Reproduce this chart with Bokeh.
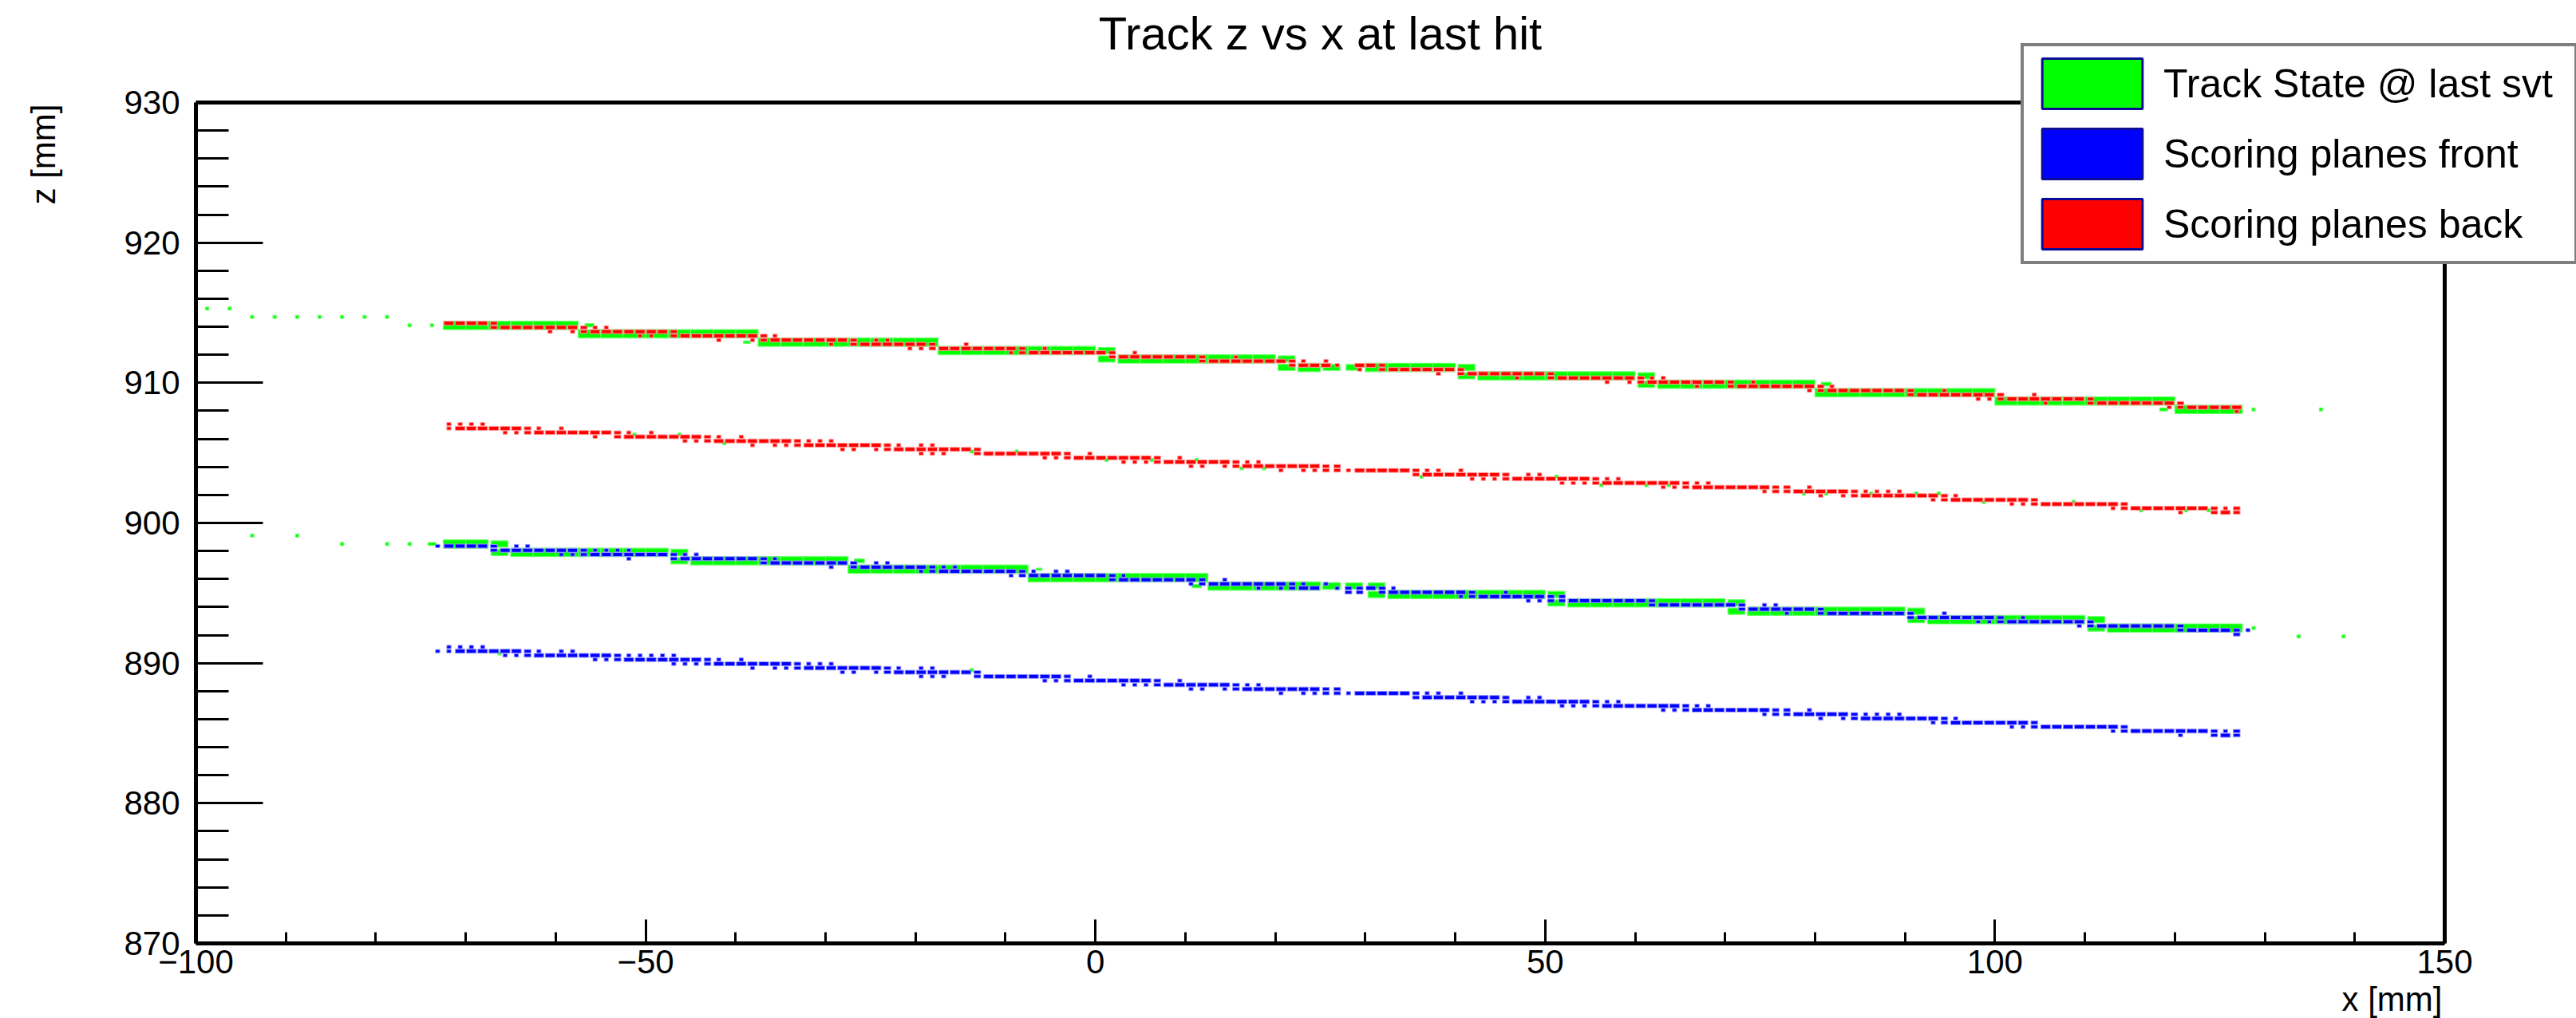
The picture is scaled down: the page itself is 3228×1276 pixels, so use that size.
from bokeh.plotting import figure
from bokeh.models import (Range1d, LinearAxis, FixedTicker, Label, Legend, LegendItem,
                          ColumnDataSource)
from bokeh.embed import file_html
from bokeh.resources import INLINE

FONT = "Liberation Sans"

# histogram binning (mm)
TS_DX, TS_DZ = 2.5, 0.6     # track-state histogram
SP_DX, SP_DZ = 1.25, 0.3    # scoring-plane histograms

# axis ranges and ticks
X_MIN, X_MAX = -100, 150
Z_MIN, Z_MAX = 870, 930
x_major = [-100, -50, 0, 50, 100, 150]
x_minor = [-90, -80, -70, -60, -40, -30, -20, -10, 10, 20, 30, 40,
           60, 70, 80, 90, 110, 120, 130, 140]
z_major = [870, 880, 890, 900, 910, 920, 930]
z_minor = [872, 874, 876, 878, 882, 884, 886, 888, 892, 894, 896, 898,
           902, 904, 906, 908, 912, 914, 916, 918, 922, 924, 926, 928]
x_tick_text = {-100: "\u2212100", -50: "\u221250"}

# ---------------- Track State @ last svt ----------------
# upper track: full-content runs (x from, x to, z)
ts_up_x0 = [-72.5, -57.5, -37.5, -17.5, 2.5, 22.5, 30, 42.5, 62.5, 80, 100, 120]
ts_up_x1 = [-57.5, -37.5, -17.5, 0, 20, 25, 40, 60, 80, 100, 120, 127.5]
ts_up_z = [914.1, 913.5, 912.9, 912.3, 911.7, 911.1, 911.1, 910.5, 909.9, 909.3, 908.7, 908.1]
ts_up_step_x = [1.25, 21.25, 41.25, 61.25]
ts_up_step_z = [912.3, 911.7, 911.1, 910.5]
ts_up_part_x = [26.25, 28.75, -56.25, -38.75, 81.25, 118.75]
ts_up_part_z = [911.1, 911.1, 914.1, 912.9, 909.9, 908.1]
ts_up_part_f = [0.75, 0.7, 0.4, 0.3, 0.45, 0.35]
ts_up_dot_x = [-98.75, -96.25, -93.75, -91.25, -88.75, -86.25, -83.75, -81.25, -78.75,
               -76.25, -73.75, 128.75, 136.25]
ts_up_dot_z = [915.3, 915.3, 914.7, 914.7, 914.7, 914.7, 914.7, 914.7, 914.7,
               914.1, 914.1, 908.1, 908.1]

# lower track
ts_lo_x0 = [-72.5, -65, -45, -27.5, -7.5, 12.5, 32.5, 52.5, 72.5, 92.5, 112.5]
ts_lo_x1 = [-67.5, -47.5, -27.5, -7.5, 12.5, 25, 50, 70, 90, 110, 127.5]
ts_lo_z = [898.5, 897.9, 897.3, 896.7, 896.1, 895.5, 894.9, 894.3, 893.7, 893.1, 892.5]
ts_lo_step_x = [-66.25, -46.25, 31.25, 51.25, 71.25, 91.25, 111.25]
ts_lo_step_z = [898.5, 897.9, 895.5, 894.9, 894.3, 893.7, 893.1]
ts_lo_part_x = [26.25, 28.75, -26.25, -6.25, 11.25, -73.75]
ts_lo_part_z = [895.5, 895.5, 897.3, 896.7, 895.5, 898.5]
ts_lo_part_f = [0.8, 0.75, 0.45, 0.25, 0.4, 0.35]
ts_lo_dot_x = [-93.75, -88.75, -83.75, -78.75, -76.25, 128.75, 133.75, 138.75]
ts_lo_dot_z = [899.1, 899.1, 898.5, 898.5, 898.5, 892.5, 891.9, 891.9]

# sparse single entries along the scoring-plane tracks
ts_spk_x = [-51.25, -46.25, -41.25, -13.75, -8.75, 1.25, 6.25, 11.25, 16.25, 18.75,
            36.25, 51.25, 56.25, 61.25, 63.75, 78.75, 81.25, 86.25, 91.25, 93.75,
            98.75, 108.75, 116.25, 121.25, 123.75, -66.25, -13.75]
ts_spk_z = [906.3, 906.3, 905.7, 905.1, 905.1, 904.5, 904.5, 904.5, 903.9, 903.9,
            903.3, 903.3, 902.7, 902.7, 902.7, 902.1, 902.1, 902.1, 902.1, 902.1,
            901.5, 901.5, 900.9, 900.9, 900.9, 890.7, 889.5]

# ---------------- Scoring planes back ----------------
back_up_x0 = [-72.5, -66.25, -56.25, -46.25, -36.25, -26.25, -17.5, -7.5, 2.5, 12.5, 22.5,
              28.75, 32.5, 41.25, 51.25, 61.25, 71.25, 81.25, 91.25, 101.25, 111.25, 121.25]
back_up_x1 = [-67.5, -57.5, -47.5, -37.5, -27.5, -18.75, -8.75, 1.25, 11.25, 21.25, 26.25,
              31.25, 40, 50, 60, 70, 80, 90, 100, 110, 120, 127.5]
back_up_z = [914.25, 913.95, 913.65, 913.35, 913.05, 912.75, 912.45, 912.15, 911.85, 911.55,
             911.25, 911.25, 910.95, 910.65, 910.35, 910.05, 909.75, 909.45, 909.15, 908.85,
             908.55, 908.25]
back_up_step_x = [-66.875, -56.875, -46.875, -36.875, -26.875, -18.125, -8.125, 1.875, 11.875,
                  21.875, 31.875, 40.625, 50.625, 60.625, 70.625, 80.625, 90.625, 100.625,
                  110.625, 120.625]
back_up_step_z = [914.25, 913.95, 913.65, 913.35, 913.05, 912.75, 912.45, 912.15, 911.85,
                  911.55, 911.25, 910.95, 910.65, 910.35, 910.05, 909.75, 909.45, 909.15,
                  908.85, 908.55]
back_up_small_x = [-60.625, -58.125, -55.625, -54.375, -50.625, -49.375, -41.875, -38.125,
                   -35.625, -29.375, -24.375, -23.125, -20.625, -19.375, -14.375, -9.375,
                   -5.625, 4.375, 15.625, 23.125, 25.625, 26.875, 29.375, 38.125, 46.875,
                   56.875, 59.375, 61.875, 63.125, 66.875, 73.125, 79.375, 81.875, 94.375,
                   98.125, 99.375, 104.375, 105.625, 119.375, 126.875]
back_up_small_z = [913.65, 913.65, 913.95, 913.95, 913.35, 913.35, 913.05, 913.05,
                   913.35, 912.75, 913.05, 913.05, 912.45, 912.45, 912.75, 912.15,
                   912.45, 912.15, 911.85, 911.55, 911.55, 911.25, 910.95, 910.65, 910.35,
                   910.05, 910.05, 910.35, 910.35, 909.75, 910.05, 909.45, 909.75, 909.45,
                   908.85, 908.85, 909.15, 908.55, 908.25, 907.95]

back_lo_x0 = [-71.25, -62.5, -52.5, -42.5, -32.5, -22.5, -12.5, -2.5, 7.5, 16.25, 28.75,
              36.25, 46.25, 56.25, 66.25, 77.5, 85, 95, 105, 115, 125]
back_lo_x1 = [-63.75, -53.75, -43.75, -33.75, -23.75, -13.75, -3.75, 6.25, 15, 25, 35,
              45, 55, 65, 75, 83.75, 93.75, 103.75, 113.75, 123.75, 126.25]
back_lo_z = [906.75, 906.45, 906.15, 905.85, 905.55, 905.25, 904.95, 904.65, 904.35, 904.05,
             903.75, 903.45, 903.15, 902.85, 902.55, 902.25, 901.95, 901.65, 901.35, 901.05,
             900.75]
back_lo_step_x = [-63.125, -53.125, -43.125, -33.125, -23.125, -13.125, -3.125, 6.875, 15.625,
                  25.625, 26.875, 35.625, 45.625, 55.625, 65.625, 75.625, 76.875, 84.375,
                  94.375, 104.375, 114.375, 124.375, 126.875]
back_lo_step_z = [906.75, 906.45, 906.15, 905.85, 905.55, 905.25, 904.95, 904.65, 904.35,
                  904.05, 904.05, 903.75, 903.45, 903.15, 902.85, 902.55, 902.55, 902.25,
                  901.95, 901.65, 901.35, 901.05, 901.05]
back_lo_small_x = [-71.875, -71.875, -70.625, -69.375, -68.125, -65.625, -64.375, -61.875,
                   -59.375, -55.625, -51.875, -49.375, -45.625, -44.375, -41.875, -39.375,
                   -38.125, -35.625, -34.375, -31.875, -30.625, -29.375, -28.125, -26.875,
                   -24.375, -21.875, -19.375, -18.125, -19.375, -18.125, -16.875, -5.625,
                   -4.375, -0.625, 3.125, 4.375, 5.625, 9.375, 10.625, 11.875, 14.375, 16.875,
                   18.125, 20.625, 23.125, 24.375, 28.125, 36.875, 38.125, 40.625, 41.875,
                   43.125, 44.375, 48.125, 49.375, 51.875, 53.125, 54.375, 56.875, 58.125,
                   63.125, 64.375, 66.875, 68.125, 74.375, 79.375, 80.625, 83.125, 85.625,
                   86.875, 88.125, 89.375, 93.125, 95.625, 101.875, 103.125, 113.125,
                   120.625, 125.625]
back_lo_small_z = [907.05, 906.75, 907.05, 907.05, 907.05, 906.45, 906.45, 906.75,
                   906.75, 906.15, 906.45, 906.45, 905.85, 905.85, 906.15, 906.15,
                   905.55, 905.55, 905.55, 905.85, 905.85, 905.85, 905.25, 905.25,
                   905.25, 905.55, 905.55, 905.55, 904.95, 904.95, 904.95, 904.65,
                   904.65, 904.95, 904.35, 904.35, 904.35, 904.65, 904.05, 904.05, 904.05, 904.35,
                   904.35, 903.75, 903.75, 903.75, 903.75, 903.75, 903.75, 903.75, 903.15,
                   903.15, 903.15, 903.45, 903.45, 902.85, 902.85, 902.85, 903.15, 903.15,
                   902.55, 902.55, 902.85, 902.85, 902.25, 902.55, 901.95, 901.95, 902.25,
                   902.25, 902.25, 902.25, 901.65, 901.95, 901.35, 901.35, 901.05,
                   900.75, 901.05]

# ---------------- Scoring planes front ----------------
front_up_x0 = [-72.5, -66.25, -56.25, -46.25, -36.25, -26.25, -17.5, -7.5, 2.5, 12.5, 22.5,
               30, 32.5, 42.5, 52.5, 62.5, 72.5, 81.25, 91.25, 101.25, 111.25, 121.25]
front_up_x1 = [-67.5, -57.5, -47.5, -37.5, -27.5, -18.75, -8.75, 1.25, 11.25, 21.25, 25,
               31.25, 41.25, 50, 61.25, 71.25, 80, 90, 100, 110, 120, 126.25]
front_up_z = [898.35, 898.05, 897.75, 897.45, 897.15, 896.85, 896.55, 896.25, 895.95, 895.65,
              895.35, 895.35, 895.05, 894.75, 894.45, 894.15, 893.85, 893.55, 893.25, 892.95,
              892.65, 892.35]
front_up_step_x = [-66.875, -56.875, -46.875, -36.875, -26.875, -18.125, -8.125, 1.875, 11.875,
                   21.875, 28.125, 29.375, 31.875, 41.875, 50.625, 51.875, 61.875, 71.875,
                   80.625, 90.625, 100.625, 110.625, 120.625, 126.875]
front_up_step_z = [898.35, 898.05, 897.75, 897.45, 897.15, 896.85, 896.55, 896.25, 895.95,
                   895.65, 895.35, 895.35, 895.35, 895.05, 894.75, 894.75, 894.45, 894.15,
                   893.85, 893.55, 893.25, 892.95, 892.65, 892.35]
front_up_small_x = [-73.125, -64.375, -63.125, -59.375, -58.125, -55.625, -54.375, -53.125,
                    -51.875, -51.875, -45.625, -44.375, -35.625, -29.375, -24.375, -23.125,
                    -19.375, -16.875, -15.625, -9.375, -6.875, -4.375, -3.125, 3.125, 10.625,
                    14.375, 18.125, 20.625, 23.125, 25.625, 26.875, 33.125, 40.625, 45.625,
                    48.125, 49.375, 74.375, 75.625, 76.875, 94.375, 98.125, 99.375, 103.125,
                    109.375, 128.125]
front_up_small_z = [898.35, 898.35, 898.35, 897.75, 897.75, 898.05, 898.05, 898.05,
                    898.05, 897.45, 897.75, 897.75, 897.45, 896.85, 897.15, 897.15,
                    896.55, 896.85, 896.85, 896.25, 896.55, 896.55, 896.55, 896.25, 895.65,
                    895.95, 895.35, 895.35, 895.65, 895.65, 895.35, 895.35, 894.75, 895.05,
                    894.45, 894.45, 894.15, 894.15, 893.55, 893.55, 892.95, 892.95, 893.25,
                    892.65, 892.35]

front_lo_x0 = [-71.25, -62.5, -52.5, -42.5, -32.5, -22.5, -12.5, -2.5, 7.5, 16.25, 28.75,
               36.25, 46.25, 56.25, 66.25, 77.5, 85, 95, 105, 115, 125]
front_lo_x1 = [-63.75, -53.75, -43.75, -33.75, -23.75, -13.75, -3.75, 6.25, 15, 25, 35,
               45, 55, 65, 75, 83.75, 93.75, 103.75, 113.75, 123.75, 126.25]
front_lo_z = [890.85, 890.55, 890.25, 889.95, 889.65, 889.35, 889.05, 888.75, 888.45, 888.15,
              887.85, 887.55, 887.25, 886.95, 886.65, 886.35, 886.05, 885.75, 885.45, 885.15,
              884.85]
front_lo_step_x = [-63.125, -53.125, -43.125, -33.125, -23.125, -13.125, -3.125, 6.875, 15.625,
                   25.625, 26.875, 35.625, 45.625, 55.625, 65.625, 75.625, 76.875, 84.375,
                   94.375, 104.375, 114.375, 124.375, 126.875]
front_lo_step_z = [890.85, 890.55, 890.25, 889.95, 889.65, 889.35, 889.05, 888.75, 888.45,
                   888.15, 888.15, 887.85, 887.55, 887.25, 886.95, 886.65, 886.65, 886.35,
                   886.05, 885.75, 885.45, 885.15, 885.15]
front_lo_small_x = [-73.125, -71.875, -71.875, -70.625, -69.375, -68.125, -65.625, -64.375,
                    -61.875, -59.375, -58.125, -55.625, -54.375, -51.875, -50.625, -49.375,
                    -48.125, -46.875, -46.875, -45.625, -44.375, -41.875, -39.375, -38.125,
                    -35.625, -34.375, -31.875, -30.625, -29.375, -28.125, -26.875, -24.375,
                    -21.875, -19.375, -18.125, -19.375, -18.125, -16.875, -5.625, -4.375,
                    -0.625, 3.125, 4.375, 5.625, 9.375, 10.625, 11.875, 14.375, 16.875,
                    18.125, 20.625, 23.125, 24.375, 28.125, 36.875, 38.125, 40.625, 41.875,
                    43.125, 44.375, 48.125, 49.375, 51.875, 53.125, 54.375, 56.875, 58.125,
                    63.125, 64.375, 66.875, 68.125, 74.375, 79.375, 80.625, 83.125, 85.625,
                    86.875, 88.125, 89.375, 93.125, 95.625, 101.875, 103.125, 113.125,
                    120.625, 125.625]
front_lo_small_z = [890.85, 891.15, 890.85, 891.15, 891.15, 891.15, 890.55, 890.55,
                    890.85, 890.85, 890.85, 890.25, 890.25, 890.55, 890.55, 890.55,
                    890.55, 890.55, 889.95, 889.95, 889.95, 890.25, 890.25, 889.65,
                    889.65, 889.65, 889.95, 889.95, 889.95, 889.35, 889.35, 889.35,
                    889.65, 889.65, 889.65, 889.05, 889.05, 889.05, 888.75, 888.75,
                    889.05, 888.45, 888.45, 888.45, 888.75, 888.15, 888.15, 888.15, 888.45,
                    888.45, 887.85, 887.85, 887.85, 887.85, 887.85, 887.85, 887.85, 887.25,
                    887.25, 887.25, 887.55, 887.55, 886.95, 886.95, 886.95, 887.25, 887.25,
                    886.65, 886.65, 886.95, 886.95, 886.35, 886.65, 886.05, 886.05, 886.35,
                    886.35, 886.35, 886.35, 885.75, 886.05, 885.45, 885.45, 885.15,
                    884.85, 885.15]


def expand_runs(x0s, x1s, zs, dx):
    xs, zz = [], []
    for a, b, z in zip(x0s, x1s, zs):
        n = int(round((b - a) / dx))
        xs += [a + (i + 0.5) * dx for i in range(n)]
        zz += [z] * n
    return xs, zz


def sp_boxes(bands):
    X, Y, W, H = [], [], [], []
    for x0, x1, z, sx, sz, mx, mz in bands:
        xs, zs = expand_runs(x0, x1, z, SP_DX)
        X += xs; Y += zs
        W += [0.86 * SP_DX] * len(xs); H += [0.95 * SP_DZ] * len(xs)
        for a, b in zip(sx, sz):
            for zz in (b, b - SP_DZ):
                X.append(a); Y.append(zz); W.append(0.6 * SP_DX); H.append(0.8 * SP_DZ)
        for a, b in zip(mx, mz):
            X.append(a); Y.append(b); W.append(0.38 * SP_DX); H.append(0.8 * SP_DZ)
    return ColumnDataSource(dict(x=X, y=Y, w=W, h=H))


def ts_boxes(bands, dots):
    X, Y, W, H = [], [], [], []
    for x0, x1, z, sx, sz, px, pz, pf in bands:
        xs, zs = expand_runs(x0, x1, z, TS_DX)
        X += xs; Y += zs
        W += [TS_DX] * len(xs); H += [TS_DZ] * len(xs)
        for a, b in zip(sx, sz):
            for zz in (b, b - TS_DZ):
                X.append(a); Y.append(zz); W.append(0.75 * TS_DX); H.append(0.75 * TS_DZ)
        for a, b, f in zip(px, pz, pf):
            X.append(a); Y.append(b); W.append(f * TS_DX); H.append(f * TS_DZ)
    for dx_, dz_ in dots:
        for a, b in zip(dx_, dz_):
            X.append(a); Y.append(b); W.append(0.36); H.append(0.22)
    return ColumnDataSource(dict(x=X, y=Y, w=W, h=H))


src_ts = ts_boxes(
    [(ts_up_x0, ts_up_x1, ts_up_z, ts_up_step_x, ts_up_step_z,
      ts_up_part_x, ts_up_part_z, ts_up_part_f),
     (ts_lo_x0, ts_lo_x1, ts_lo_z, ts_lo_step_x, ts_lo_step_z,
      ts_lo_part_x, ts_lo_part_z, ts_lo_part_f)],
    [(ts_up_dot_x, ts_up_dot_z), (ts_lo_dot_x, ts_lo_dot_z), (ts_spk_x, ts_spk_z)])
src_front = sp_boxes([
    (front_up_x0, front_up_x1, front_up_z, front_up_step_x, front_up_step_z,
     front_up_small_x, front_up_small_z),
    (front_lo_x0, front_lo_x1, front_lo_z, front_lo_step_x, front_lo_step_z,
     front_lo_small_x, front_lo_small_z),
])
src_back = sp_boxes([
    (back_up_x0, back_up_x1, back_up_z, back_up_step_x, back_up_step_z,
     back_up_small_x, back_up_small_z),
    (back_lo_x0, back_lo_x1, back_lo_z, back_lo_step_x, back_lo_step_z,
     back_lo_small_x, back_lo_small_z),
])

# canvas geometry (px): the drawing area spans the full canvas, the histogram
# frame sits inside it and the axes are pinned to the frame edges
W_PX, H_PX = 3228, 1276
FR_L, FR_R, FR_T, FR_B = 245, 3063, 128, 1182
sx = (FR_R - FR_L) / (X_MAX - X_MIN)
sz = (FR_B - FR_T) / (Z_MAX - Z_MIN)
x_lo = X_MIN - FR_L / sx
x_hi = X_MAX + (W_PX - FR_R) / sx
z_lo = Z_MIN - (H_PX - FR_B) / sz
z_hi = Z_MAX + FR_T / sz


def cx(px):
    return X_MIN + (px - FR_L) / sx


def cz(py):
    return Z_MAX - (py - FR_T) / sz


p = figure(width=W_PX, height=H_PX, x_range=Range1d(x_lo, x_hi), y_range=Range1d(z_lo, z_hi),
           output_backend="svg", toolbar_location=None, x_axis_type=None, y_axis_type=None,
           min_border=0, background_fill_color="white", border_fill_color="white",
           outline_line_color=None)
p.title.visible = False
p.xgrid.visible = False
p.ygrid.visible = False

p.rect(x="x", y="y", width="w", height="h", source=src_ts,
       fill_color="#00ff00", line_color="#6dff6d", line_width=1.2)
p.rect(x="x", y="y", width="w", height="h", source=src_front,
       fill_color="#0000ff", line_color="#9a9aff", line_width=1)
p.rect(x="x", y="y", width="w", height="h", source=src_back,
       fill_color="#ff0000", line_color="#ff9a9a", line_width=1)

# axes: ROOT style, ticks pointing into the frame
yax = LinearAxis(ticker=FixedTicker(ticks=z_major, minor_ticks=z_minor),
                 fixed_location=X_MIN, bounds=(Z_MIN, Z_MAX))
xax = LinearAxis(ticker=FixedTicker(ticks=x_major, minor_ticks=x_minor),
                 fixed_location=Z_MIN, bounds=(X_MIN, X_MAX))
for ax, maj, mnr in ((yax, 84, 41), (xax, 30, 14)):
    ax.axis_line_width = 5
    ax.axis_line_color = "black"
    ax.major_tick_in = maj
    ax.major_tick_out = 0
    ax.minor_tick_in = mnr
    ax.minor_tick_out = 0
    ax.major_tick_line_width = 3
    ax.minor_tick_line_width = 3
    ax.major_label_text_font = FONT
    ax.major_label_text_font_size = "42px"
    ax.major_label_text_color = "black"
yax.major_label_standoff = 20
xax.major_label_standoff = 8
xax.major_label_overrides = x_tick_text
p.add_layout(yax, "left")
p.add_layout(xax, "below")
top_ax = LinearAxis(ticker=FixedTicker(ticks=[]), fixed_location=Z_MAX, bounds=(X_MIN, X_MAX),
                    axis_line_width=5, axis_line_color="black",
                    major_tick_line_color=None, minor_tick_line_color=None)
right_ax = LinearAxis(ticker=FixedTicker(ticks=[]), fixed_location=X_MAX, bounds=(Z_MIN, Z_MAX),
                      axis_line_width=5, axis_line_color="black",
                      major_tick_line_color=None, minor_tick_line_color=None)
p.add_layout(top_ax, "above")
p.add_layout(right_ax, "right")

# titles
p.add_layout(Label(x=(X_MIN + X_MAX) / 2, y=cz(41), text="Track z vs x at last hit",
                   text_font=FONT, text_font_size="58px", text_align="center",
                   text_baseline="middle", text_color="black"))
p.add_layout(Label(x=cx(54), y=cz(130), text="z [mm]", text_font=FONT, text_font_size="42px",
                   angle=1.5707963, text_align="right", text_baseline="middle",
                   text_color="black"))
p.add_layout(Label(x=cx(3060), y=cz(1252), text="x [mm]", text_font=FONT,
                   text_font_size="42px", text_align="right", text_baseline="middle",
                   text_color="black"))

# legend
SWATCH_EDGE = "#0c0c96"
swatch = dict(left=[1000], right=[1001], top=[1001], bottom=[1000])
r_ts = p.quad(**swatch, fill_color="#00ff00", line_color=SWATCH_EDGE, line_width=3)
r_fr = p.quad(**swatch, fill_color="#0000ff", line_color=SWATCH_EDGE, line_width=3)
r_bk = p.quad(**swatch, fill_color="#ff0000", line_color=SWATCH_EDGE, line_width=3)
legend = Legend(items=[LegendItem(label="Track State @ last svt", renderers=[r_ts]),
                       LegendItem(label="Scoring planes front", renderers=[r_fr]),
                       LegendItem(label="Scoring planes back", renderers=[r_bk])],
                location=(2532, 945), orientation="vertical", margin=0,
                glyph_width=157, glyph_height=79, spacing=9, padding=7, label_standoff=11,
                label_width=508, label_height=79,
                label_text_font=FONT, label_text_font_size="50px", label_text_color="black",
                border_line_color="black", border_line_width=4,
                background_fill_color="white", background_fill_alpha=1.0)
p.add_layout(legend, "center")

open("out.html", "w").write(file_html(p, INLINE))
